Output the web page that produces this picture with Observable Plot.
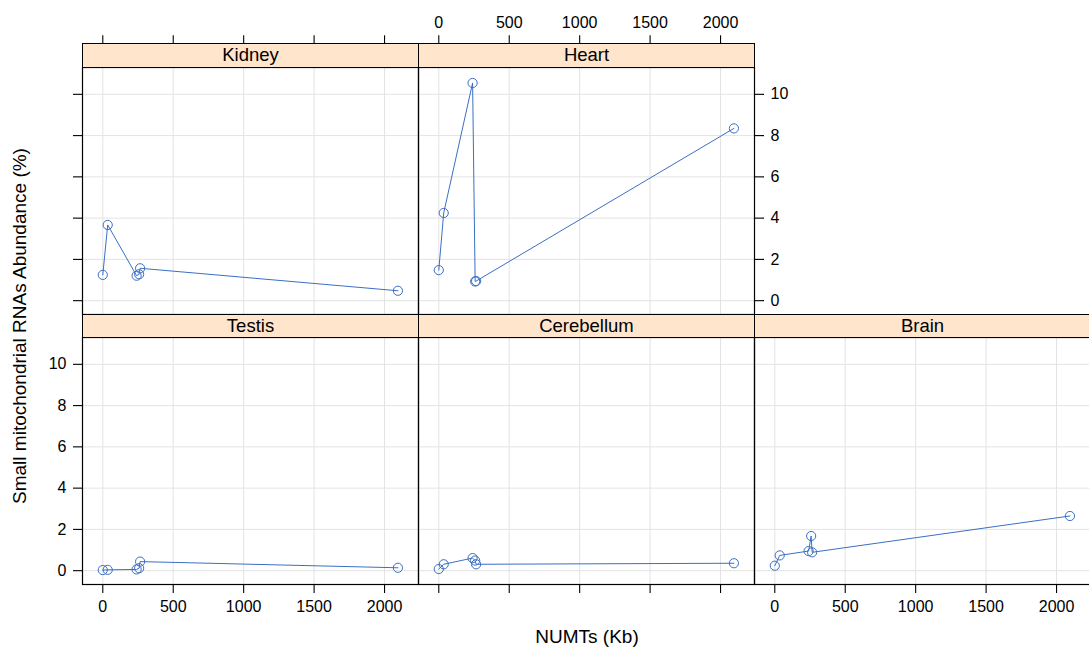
<!DOCTYPE html>
<html><head><meta charset="utf-8">
<script src="https://cdn.jsdelivr.net/npm/d3@7"></script>
<script src="https://cdn.jsdelivr.net/npm/@observablehq/plot@0.6"></script>
<style>
body{margin:0;background:#fff;font-family:"Liberation Sans",Arial,sans-serif;}
#chart{position:relative;width:1089px;height:650px;overflow:hidden;background:#fff;}
.strip{position:absolute;box-sizing:border-box;border:1px solid #000;background:#ffe5cc;font-size:18.5px;line-height:21px;text-align:center;color:#000;}
.panel{position:absolute;}
.title{position:absolute;font-size:19px;color:#000;white-space:nowrap;transform:translate(-50%,-50%);}
</style></head><body><div id="chart"></div>
<script>
// ---- data ----
const tissues = ["Kidney", "Heart", "Testis", "Cerebellum", "Brain"];
const numts = [0, 35, 240, 258, 265, 2095];
const kidney = [1.25, 3.67, 1.21, 1.28, 1.57, 0.48];
const heart = [1.48, 4.25, 10.55, 0.93, 0.95, 8.35];
const testis = [0.03, 0.04, 0.06, 0.12, 0.44, 0.14];
const cerebellum = [0.08, 0.31, 0.61, 0.49, 0.31, 0.36];
const brain = [0.24, 0.74, 0.95, 1.68, 0.89, 2.65];
const xTicks = [0, 500, 1000, 1500, 2000];
const yTicks = [0, 2, 4, 6, 8, 10];
const xTitle = "NUMTs (Kb)";
const yTitle = "Small mitochondrial RNAs Abundance (%)";

const values = {Kidney: kidney, Heart: heart, Testis: testis, Cerebellum: cerebellum, Brain: brain};

// ---- layout ----
const colLeft = [82, 418, 754];
const panelW = 336;
const stripTop = [43, 313.7];
const stripH = 23.7;
const panelH = 247;
const xDomain = [-144, 2241];
const yDomain = [-0.67, 11.3];
const blue = "#3a6fc4";
const gridColor = "#e3e3e3";

const panels = {
  Kidney:     {col: 0, row: 0, x: "top",    xLab: false, y: "left",  yLab: false},
  Heart:      {col: 1, row: 0, x: "top",    xLab: true,  y: "right", yLab: true},
  Testis:     {col: 0, row: 1, x: "bottom", xLab: true,  y: "left",  yLab: true},
  Cerebellum: {col: 1, row: 1, x: "bottom", xLab: false, y: null,    yLab: false},
  Brain:      {col: 2, row: 1, x: "bottom", xLab: true,  y: null,    yLab: false}
};

const chart = document.getElementById("chart");
const plain = d => String(d);

for (const t of tissues) {
  const p = panels[t];
  const data = numts.map((n, i) => ({numts: n, value: values[t][i]}));
  const marks = [
    Plot.gridX(xTicks, {stroke: gridColor, strokeOpacity: 1}),
    Plot.gridY(yTicks, {stroke: gridColor, strokeOpacity: 1}),
    Plot.line(data, {x: "numts", y: "value", stroke: blue, strokeWidth: 1}),
    Plot.dot(data, {x: "numts", y: "value", r: 4.6, stroke: blue, fill: "none", strokeWidth: 1}),
    Plot.frame({stroke: "#000", strokeWidth: 1.2})
  ];
  const xOpts = {anchor: p.x, tickSize: 9, tickPadding: 7, label: null, fontSize: 16, strokeWidth: 1.1,
                 tickFormat: p.xLab ? plain : () => ""};
  if (p.x === "top") xOpts.dy = -stripH;
  marks.push(Plot.axisX(xTicks, xOpts));
  if (p.y) {
    marks.push(Plot.axisY(yTicks, {anchor: p.y, tickSize: 9, tickPadding: 7, label: null, fontSize: 16, strokeWidth: 1.1,
                                   tickFormat: p.yLab ? plain : () => ""}));
  }
  const svg = Plot.plot({
    width: panelW, height: panelH, margin: 0,
    x: {domain: xDomain, label: null},
    y: {domain: yDomain, label: null, axis: p.y ? undefined : null},
    style: {background: "transparent", overflow: "visible", fontFamily: "'Liberation Sans', Arial, sans-serif", fontSize: "16px", color: "#000"},
    marks
  });
  svg.classList.add("panel");
  svg.style.left = colLeft[p.col] + "px";
  svg.style.top = (stripTop[p.row] + stripH) + "px";
  chart.appendChild(svg);

  const strip = document.createElement("div");
  strip.className = "strip";
  strip.style.left = colLeft[p.col] + "px";
  strip.style.top = stripTop[p.row] + "px";
  strip.style.width = (panelW + 1) + "px";
  strip.style.height = (stripH + 1) + "px";
  strip.textContent = t;
  chart.appendChild(strip);
}

const xt = document.createElement("div");
xt.className = "title";
xt.style.left = "587px"; xt.style.top = "637px";
xt.textContent = xTitle;
chart.appendChild(xt);

const yt = document.createElement("div");
yt.className = "title";
yt.style.left = "20px"; yt.style.top = "326px";
yt.style.transform = "translate(-50%,-50%) rotate(-90deg)";
yt.textContent = yTitle;
chart.appendChild(yt);
</script>
</body></html>
